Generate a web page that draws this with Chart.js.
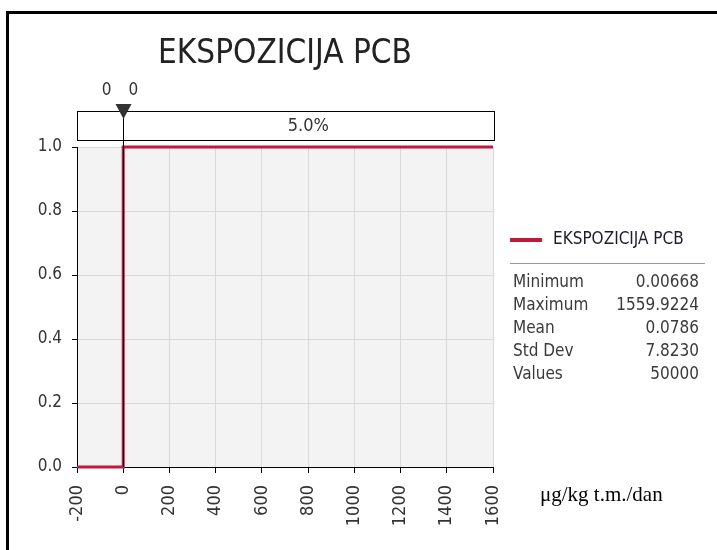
<!DOCTYPE html>
<html>
<head>
<meta charset="utf-8">
<script src="https://cdn.jsdelivr.net/npm/chart.js@4"></script>
<style>
  html, body { margin: 0; padding: 0; background: #fff; }
  #wrap { width: 717px; height: 550px; position: relative; }
</style>
</head>
<body>
<div id="wrap"><canvas id="chart" width="717" height="550"></canvas></div>
<script>
// chart data
const chartTitle = "EKSPOZICIJA PCB";
const seriesName = "EKSPOZICIJA PCB";
const cdfX = [-200, 0, 0, 1600];
const cdfY = [0, 0, 1, 1];
const xTicks = [-200, 0, 200, 400, 600, 800, 1000, 1200, 1400, 1600];
const yTicks = [0, 0.2, 0.4, 0.6, 0.8, 1.0];
const delimiterValue = 0;
const delimiterLabels = ["0", "0"];
const regionLabel = "5.0%";
const statNames = ["Minimum", "Maximum", "Mean", "Std Dev", "Values"];
const statValues = ["0.00668", "1559.9224", "0.0786", "7.8230", "50000"];
const unitLabel = "\u03bcg/kg t.m./dan";

const FONT = "'DejaVu Sans Condensed', 'DejaVu Sans', sans-serif";
const RED = "#c4173c";
const TXT = "#333";

const decor = {
  id: "decor",
  beforeDraw(chart) {
    const { ctx, chartArea: a } = chart;
    ctx.save();
    ctx.fillStyle = "#fff";
    ctx.fillRect(0, 0, chart.width, chart.height);
    ctx.fillStyle = "#f3f3f3";
    ctx.fillRect(a.left, a.top, a.right - a.left, a.bottom - a.top);
    ctx.restore();
  },
  afterDatasetsDraw(chart) {
    const { ctx, chartArea: a, scales } = chart;
    const mx = Math.round(scales.x.getPixelForValue(delimiterValue)) + 0.5;
    ctx.save();
    // delimiter line + marker
    ctx.strokeStyle = "#000";
    ctx.lineWidth = 1;
    ctx.beginPath();
    ctx.moveTo(mx, 104);
    ctx.lineTo(mx, a.bottom);
    ctx.stroke();
    // region box
    ctx.strokeRect(a.left + 0.5, 111.5, a.right - a.left + 1, 29);
    ctx.fillStyle = "#333";
    ctx.beginPath();
    ctx.moveTo(mx - 8, 104);
    ctx.lineTo(mx + 8, 104);
    ctx.lineTo(mx, 119);
    ctx.closePath();
    ctx.fill();
    ctx.fillStyle = TXT;
    ctx.font = "18px " + FONT;
    ctx.textBaseline = "middle";
    ctx.textAlign = "center";
    ctx.fillText(regionLabel, (mx + a.right) / 2, 126);
    ctx.font = "17px " + FONT;
    ctx.textBaseline = "alphabetic";
    ctx.textAlign = "right";
    ctx.fillText(delimiterLabels[0], mx - 12, 95);
    ctx.textAlign = "left";
    ctx.fillText(delimiterLabels[1], mx + 5, 95);
    ctx.restore();
  },
  afterDraw(chart) {
    const { ctx } = chart;
    ctx.save();
    // frame
    ctx.fillStyle = "#000";
    ctx.fillRect(6, 11, 711, 3);
    ctx.fillRect(6, 11, 3, 539);
    // title
    ctx.fillStyle = "#222";
    ctx.font = "33px " + FONT;
    ctx.textAlign = "center";
    ctx.textBaseline = "alphabetic";
    ctx.fillText(chartTitle, 285, 63);
    // legend
    ctx.strokeStyle = RED;
    ctx.lineWidth = 4;
    ctx.beginPath();
    ctx.moveTo(510, 240);
    ctx.lineTo(542, 240);
    ctx.stroke();
    ctx.fillStyle = "#1e1e2a";
    ctx.font = "17px " + FONT;
    ctx.textAlign = "left";
    ctx.textBaseline = "middle";
    ctx.fillText(seriesName, 553, 240);
    ctx.strokeStyle = "#999";
    ctx.lineWidth = 1;
    ctx.beginPath();
    ctx.moveTo(510, 263.5);
    ctx.lineTo(705, 263.5);
    ctx.stroke();
    ctx.font = "17px " + FONT;
    statNames.forEach((name, i) => {
      const y = 283 + i * 23;
      ctx.fillStyle = "#3a3a3a";
      ctx.textAlign = "left";
      ctx.fillText(name, 513, y);
      ctx.textAlign = "right";
      ctx.fillText(statValues[i], 699, y);
    });
    // units
    ctx.fillStyle = "#000";
    ctx.font = "21px 'Liberation Serif', serif";
    ctx.textAlign = "left";
    ctx.fillText(unitLabel, 540, 495);
    ctx.restore();
  }
};

new Chart(document.getElementById("chart"), {
  type: "line",
  data: {
    datasets: [{
      label: seriesName,
      data: cdfX.map((x, i) => ({ x: x, y: cdfY[i] })),
      borderColor: RED,
      borderWidth: 3,
      pointRadius: 0,
      tension: 0,
      clip: false
    }]
  },
  options: {
    responsive: false,
    animation: false,
    devicePixelRatio: 1,
    layout: { padding: { left: 27, top: 147, right: 224, bottom: 13 } },
    plugins: { legend: { display: false }, title: { display: false }, tooltip: { enabled: false } },
    scales: {
      x: {
        type: "linear",
        min: -200,
        max: 1600,
        afterBuildTicks: s => { s.ticks = xTicks.map(v => ({ value: v })); },
        afterFit: s => { s.height = 70; },
        grid: { color: "#d9d9d9", tickColor: "#000", tickLength: 6 },
        border: { color: "#000", width: 1 },
        ticks: {
          autoSkip: false,
          minRotation: 90,
          maxRotation: 90,
          padding: 12,
          color: TXT,
          font: { family: FONT, size: 18 },
          callback: v => String(v)
        }
      },
      y: {
        min: 0,
        max: 1,
        afterBuildTicks: s => { s.ticks = yTicks.map(v => ({ value: v })); },
        afterFit: s => { s.width = 50; },
        grid: { color: "#d9d9d9", tickColor: "#000", tickLength: 5 },
        border: { color: "#000", width: 1 },
        ticks: {
          padding: 10,
          color: TXT,
          font: { family: FONT, size: 17 },
          callback: v => v.toFixed(1)
        }
      }
    }
  },
  plugins: [decor]
});
</script>
</body>
</html>
